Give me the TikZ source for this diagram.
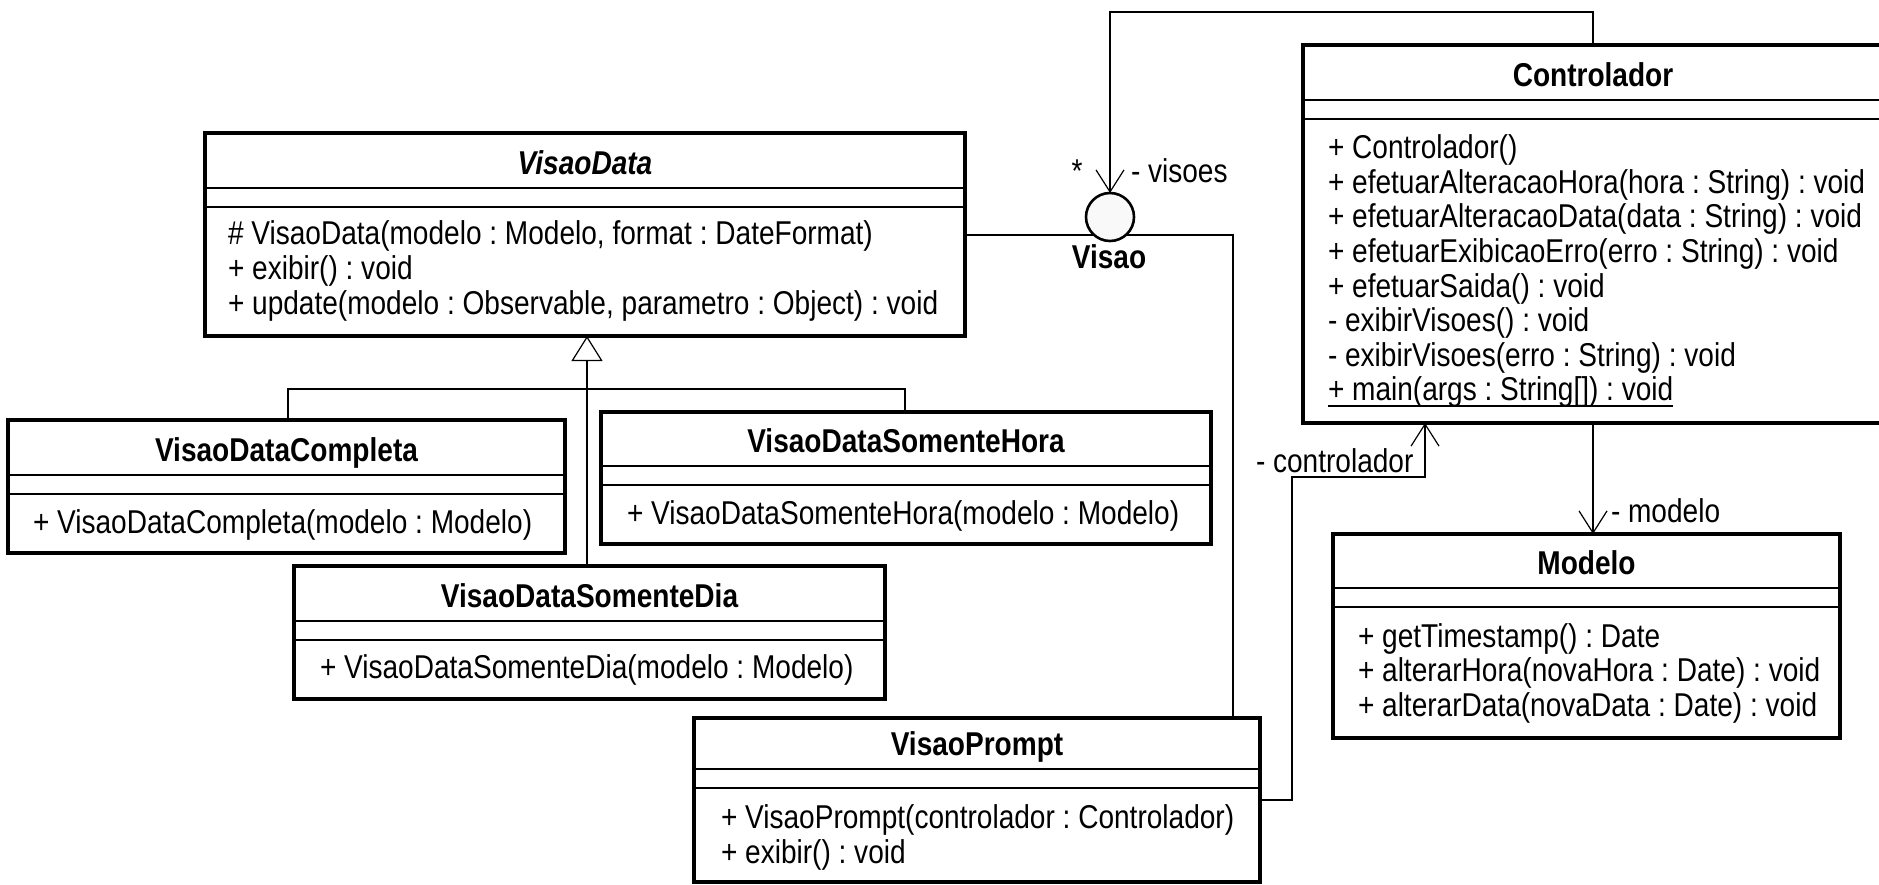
\documentclass[tikz,border=0pt]{standalone}
\usepackage{fontspec}
\setmainfont[FakeStretch=0.85]{Liberation Sans}
\usetikzlibrary{arrows.meta,calc,fit}
\frenchspacing

\newcommand\umlfont{\fontsize{16.5}{20}\selectfont}

% class box: name, left, top, right, bottom, header height, title
\newcommand\umlclass[7]{%
  \node[classbox, fit={(#2,#3) (#4,#5)}] (#1) {};
  \draw[sepline] ($(#1.north west)+(0,#6)$) -- ($(#1.north east)+(0,#6)$);
  \draw[sepline] ($(#1.north west)+(0,#6+19)$) -- ($(#1.north east)+(0,#6+19)$);
  \node[titletext] (#1-title) at ($(#1.north)+(0,#6-14)$) {#7};
}

\begin{document}
\begin{tikzpicture}[x=0.5pt,y=-0.5pt,
  every node/.style={inner sep=0pt, outer sep=0pt},
  classbox/.style={draw, line width=2pt, fill=white},
  sepline/.style={line width=1pt},
  optext/.style={anchor=base west, font=\umlfont},
  titletext/.style={anchor=base, font=\umlfont\bfseries},
  lbl/.style={anchor=base west, font=\umlfont},
  conn/.style={line width=0.6pt},
  assoc/.style={conn, -{Straight Barb[length=11pt,width=14pt]}},
  gen/.style={conn, -{Triangle[open,length=12.5pt,width=15.5pt,fill=white]}}]

\useasboundingbox (0,0) rectangle (1879,884);

% ---------- classes ----------
\umlclass{vd}{205}{133}{965}{336}{55}{\itshape VisaoData}
\node[optext] (vd-op1) at (228,244) {\# VisaoData(modelo : Modelo, format : DateFormat)};
\node[optext] (vd-op2) at (228,279) {+ exibir() : void};
\node[optext] (vd-op3) at (228,314) {+ update(modelo : Observable, parametro : Object) : void};

\umlclass{cmp}{8}{420}{565}{553}{55}{VisaoDataCompleta}
\node[optext] (cmp-op1) at (33,533) {+ VisaoDataCompleta(modelo : Modelo)};

\umlclass{hora}{601}{412}{1211}{544}{54}{VisaoDataSomenteHora}
\node[optext] (hora-op1) at (627,524) {+ VisaoDataSomenteHora(modelo : Modelo)};

\umlclass{dia}{294}{566}{885}{699}{55}{VisaoDataSomenteDia}
\node[optext] (dia-op1) at (320,678) {+ VisaoDataSomenteDia(modelo : Modelo)};

\umlclass{vp}{694}{718}{1260}{882}{51}{VisaoPrompt}
\node[optext] (vp-op1) at (721,828) {+ VisaoPrompt(controlador : Controlador)};
\node[optext] (vp-op2) at (721,863) {+ exibir() : void};

\umlclass{ctrl}{1303}{45}{1883}{423}{55}{Controlador}
\node[optext] (ctrl-op1) at (1328,158) {+ Controlador()};
\node[optext] (ctrl-op2) at (1328,193) {+ efetuarAlteracaoHora(hora : String) : void};
\node[optext] (ctrl-op3) at (1328,227.5) {+ efetuarAlteracaoData(data : String) : void};
\node[optext] (ctrl-op4) at (1328,262) {+ efetuarExibicaoErro(erro : String) : void};
\node[optext] (ctrl-op5) at (1328,297) {+ efetuarSaida() : void};
\node[optext] (ctrl-op6) at (1328,331) {- exibirVisoes() : void};
\node[optext] (ctrl-op7) at (1328,366) {- exibirVisoes(erro : String) : void};
\node[optext] (ctrl-op8) at (1328,400) {+ main(args : String[]) : void};
% static operation: underlined
\draw[line width=0.7pt] ($(ctrl-op8.base west)+(0,6)$) -- ($(ctrl-op8.base east)+(0,6)$);

\umlclass{mod}{1333}{534}{1840}{738}{54}{Modelo}
\node[optext] (mod-op1) at (1358,647) {+ getTimestamp() : Date};
\node[optext] (mod-op2) at (1358,681.5) {+ alterarHora(novaHora : Date) : void};
\node[optext] (mod-op3) at (1358,716) {+ alterarData(novaData : Date) : void};

% ---------- generalization tree ----------
\coordinate (gbar) at (587,389);
\draw[conn] ($(cmp.north west)+(280,0)$) |- (gbar);
\draw[conn] ($(hora.north west)+(304,0)$) |- (gbar);
\draw[gen] (dia.north -| gbar) -- (vd.south -| gbar);

% ---------- Visao interface (lollipop) ----------
\coordinate (vcorner) at (1233,235);
\draw[conn] (vd.east |- vcorner) -- (vcorner) -- (vp.north -| vcorner);
\node[circle, draw, line width=1.3pt, fill=gray!5, minimum size=24pt] (visao) at (1110,217) {};
\node[titletext] (visao-name) at (1109,268) {Visao};

% Controlador -> Visao (visoes)
\coordinate (ctop) at (1593,12);
\draw[assoc] (ctrl.north -| ctop) -- (ctop) -| (visao.north);
\node[anchor=base, font=\umlfont] (visoes-mult) at (1077,182) {*};
\node[lbl] (visoes-role) at (1131,182) {- visoes};

% VisaoPrompt -> Controlador (controlador)
\coordinate (pc1) at (1292,477);
\coordinate (pc2) at (1425,477);
\draw[assoc] (vp.east) -| (pc1) -- (pc2) -- (ctrl.south -| pc2);
\node[lbl] (ctrl-role) at (1256,472) {- controlador};

% Controlador -> Modelo (modelo)
\draw[assoc] (ctrl.south -| ctop) -- (mod.north -| ctop);
\node[lbl] (mod-role) at (1611,522) {- modelo};

\end{tikzpicture}
\end{document}
